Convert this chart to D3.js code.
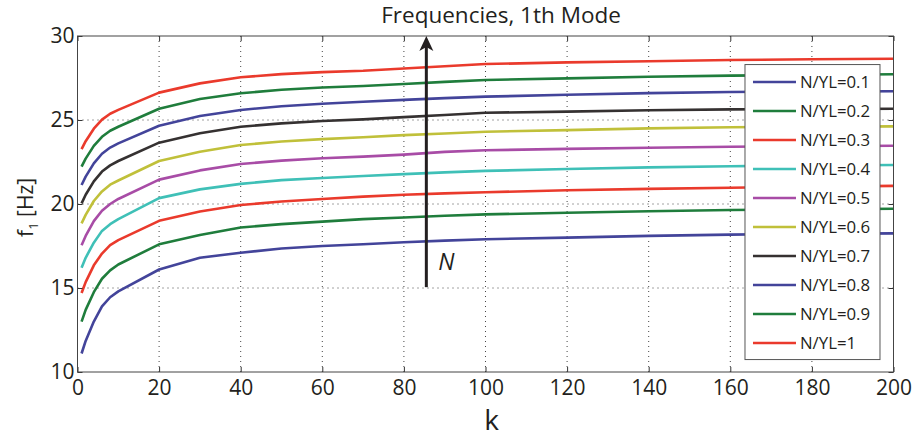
<!DOCTYPE html>
<html>
<head>
<meta charset="utf-8">
<script src="https://cdn.jsdelivr.net/npm/d3@7"></script>
<style>
  body { margin: 0; background: #fff; }
  text { font-family: "Open Sans", "DejaVu Sans", sans-serif; fill: #231f20; }
</style>
</head>
<body>
<svg id="chart" width="920" height="438"></svg>
<script>
// stiffness parameter k where each curve was sampled
var kValues = [1, 2, 4, 6, 8, 10, 20, 30, 40, 50, 60, 70, 80, 90, 100, 120, 140, 160, 180, 200];

// first mode frequency [Hz] for each N/YL ratio
var f01 = [11.1, 11.85, 13.0, 13.9, 14.45, 14.8, 16.1, 16.8, 17.1, 17.35, 17.5, 17.6, 17.72, 17.82, 17.9, 18.0, 18.1, 18.18, 18.22, 18.25];
var f02 = [13.0, 13.7, 14.75, 15.55, 16.05, 16.4, 17.6, 18.15, 18.6, 18.8, 18.95, 19.1, 19.2, 19.3, 19.38, 19.48, 19.57, 19.64, 19.68, 19.72];
var f03 = [14.7, 15.35, 16.35, 17.05, 17.55, 17.85, 19.0, 19.55, 19.94, 20.15, 20.3, 20.44, 20.55, 20.63, 20.7, 20.82, 20.9, 20.97, 21.03, 21.08];
var f04 = [16.2, 16.8, 17.7, 18.4, 18.8, 19.1, 20.35, 20.87, 21.2, 21.42, 21.55, 21.67, 21.78, 21.88, 21.97, 22.08, 22.18, 22.25, 22.29, 22.32];
var f05 = [17.55, 18.1, 18.98, 19.6, 20.0, 20.3, 21.45, 22.0, 22.38, 22.58, 22.72, 22.82, 22.94, 23.1, 23.2, 23.28, 23.35, 23.41, 23.44, 23.47];
var f06 = [18.85, 19.35, 20.18, 20.75, 21.15, 21.4, 22.56, 23.11, 23.51, 23.72, 23.86, 23.97, 24.1, 24.2, 24.3, 24.4, 24.5, 24.57, 24.6, 24.62];
var f07 = [20.04, 20.55, 21.35, 21.93, 22.3, 22.56, 23.65, 24.21, 24.6, 24.8, 24.94, 25.04, 25.17, 25.3, 25.43, 25.5, 25.58, 25.63, 25.65, 25.67];
var f08 = [21.13, 21.63, 22.42, 22.99, 23.36, 23.61, 24.66, 25.24, 25.6, 25.82, 25.97, 26.09, 26.2, 26.3, 26.39, 26.5, 26.6, 26.67, 26.69, 26.71];
var f09 = [22.22, 22.7, 23.46, 24.0, 24.36, 24.6, 25.67, 26.25, 26.59, 26.8, 26.93, 27.02, 27.14, 27.27, 27.38, 27.48, 27.57, 27.64, 27.68, 27.72];
var f10 = [23.27, 23.74, 24.48, 25.02, 25.37, 25.6, 26.63, 27.18, 27.54, 27.73, 27.85, 27.93, 28.07, 28.2, 28.33, 28.43, 28.5, 28.57, 28.62, 28.65];

var seriesNames = ["N/YL=0.1", "N/YL=0.2", "N/YL=0.3", "N/YL=0.4", "N/YL=0.5",
                   "N/YL=0.6", "N/YL=0.7", "N/YL=0.8", "N/YL=0.9", "N/YL=1"];
var seriesColors = ["#43449a", "#1f7d3c", "#ea3a2c", "#3fc0b7", "#a84ca6",
                    "#c0c03a", "#353131", "#43449a", "#1f7d3c", "#ea3a2c"];

var xTicks = [0, 20, 40, 60, 80, 100, 120, 140, 160, 180, 200];
var yTicks = [10, 15, 20, 25, 30];

var series = [f01, f02, f03, f04, f05, f06, f07, f08, f09, f10];

var svg = d3.select("#chart"),
    margin = { top: 36, right: 26.5, bottom: 66, left: 77.5 },
    width = +svg.attr("width") - margin.left - margin.right,
    height = +svg.attr("height") - margin.top - margin.bottom,
    g = svg.append("g").attr("transform", "translate(" + margin.left + "," + margin.top + ")");

var x = d3.scaleLinear().domain([0, 200]).range([0, width]);
var y = d3.scaleLinear().domain([10, 30]).range([height, 0]);

// dotted grid
g.append("g").selectAll("line").data(xTicks.slice(1, -1)).enter()
    .append("line")
    .attr("x1", function(d) { return x(d); })
    .attr("x2", function(d) { return x(d); })
    .attr("y1", 0).attr("y2", height)
    .style("stroke", "#444").style("stroke-width", 1).style("stroke-dasharray", "1,4");
g.append("g").selectAll("line").data(yTicks.slice(1, -1)).enter()
    .append("line")
    .attr("y1", function(d) { return y(d); })
    .attr("y2", function(d) { return y(d); })
    .attr("x1", 0).attr("x2", width)
    .style("stroke", "#444").style("stroke-width", 1).style("stroke-dasharray", "1,4");

// curves (straight segments between samples)
var line = d3.line()
    .x(function(d, i) { return x(kValues[i]); })
    .y(function(d) { return y(d); });

g.append("g").selectAll("path").data(series).enter()
    .append("path")
    .attr("d", line)
    .attr("fill", "none")
    .attr("stroke", function(d, i) { return seriesColors[i]; })
    .attr("stroke-width", 2.6)
    .attr("stroke-linejoin", "round");

// axes with inward ticks on all four sides
var axisStyle = function(sel) {
    sel.select(".domain").remove();
    sel.selectAll(".tick line").attr("stroke", "#333");
    sel.selectAll(".tick text").style("font-size", "21px").attr("fill", "#231f20");
};
g.append("g").attr("transform", "translate(0," + height + ")")
    .call(d3.axisBottom(x).tickValues(xTicks).tickSizeInner(-5).tickSizeOuter(0).tickPadding(8))
    .call(axisStyle);
g.append("g")
    .call(d3.axisTop(x).tickValues(xTicks).tickFormat("").tickSizeInner(-5).tickSizeOuter(0))
    .call(axisStyle);
g.append("g")
    .call(d3.axisLeft(y).tickValues(yTicks).tickSizeInner(-5).tickSizeOuter(0).tickPadding(3))
    .call(axisStyle);
g.append("g").attr("transform", "translate(" + width + ",0)")
    .call(d3.axisRight(y).tickValues(yTicks).tickFormat("").tickSizeInner(-5).tickSizeOuter(0))
    .call(axisStyle);

g.append("rect")
    .attr("width", width).attr("height", height)
    .attr("fill", "none").attr("stroke", "#444").attr("stroke-width", 1);

// arrow showing increasing N
var arrowK = 85.5;
g.append("line")
    .attr("x1", x(arrowK)).attr("x2", x(arrowK))
    .attr("y1", y(15.05)).attr("y2", y(29.4))
    .attr("stroke", "#231f20").attr("stroke-width", 3);
g.append("path")
    .attr("d", "M" + x(arrowK) + "," + y(30) + "l-7,15l7,-4l7,4z")
    .attr("fill", "#231f20");
g.append("text")
    .attr("x", x(arrowK) + 12).attr("y", y(16.1))
    .style("font-size", "23px").style("font-style", "italic")
    .text("N");

// legend
var legend = g.append("g").attr("transform", "translate(" + x(163.6) + "," + y(28.3) + ")");
legend.append("rect")
    .attr("width", 135).attr("height", 295)
    .attr("fill", "#fff").attr("stroke", "#555").attr("stroke-width", 1);
var rows = legend.selectAll(".row").data(seriesNames).enter()
    .append("g")
    .attr("transform", function(d, i) { return "translate(0," + (17.5 + i * 29) + ")"; });
rows.append("line")
    .attr("x1", 8).attr("x2", 51)
    .attr("stroke", function(d, i) { return seriesColors[i]; })
    .attr("stroke-width", 2.6);
rows.append("text")
    .attr("x", 55).attr("dy", "0.36em")
    .style("font-size", "16.8px")
    .text(function(d) { return d; });

// titles
svg.append("text")
    .attr("x", 501).attr("y", 23)
    .attr("text-anchor", "middle")
    .style("font-size", "22.5px")
    .text("Frequencies, 1th Mode");

svg.append("text")
    .attr("x", margin.left + x(101.5)).attr("y", 430)
    .attr("text-anchor", "middle")
    .style("font-size", "28px")
    .text("k");

var yLabel = svg.append("text")
    .attr("transform", "translate(33," + (margin.top + y(19.8)) + ") rotate(-90)")
    .attr("text-anchor", "middle")
    .style("font-size", "21px");
yLabel.append("tspan").text("f");
yLabel.append("tspan").attr("dy", 5).style("font-size", "13px").text("1");
yLabel.append("tspan").attr("dy", -5).text(" [Hz]");
</script>
</body>
</html>
